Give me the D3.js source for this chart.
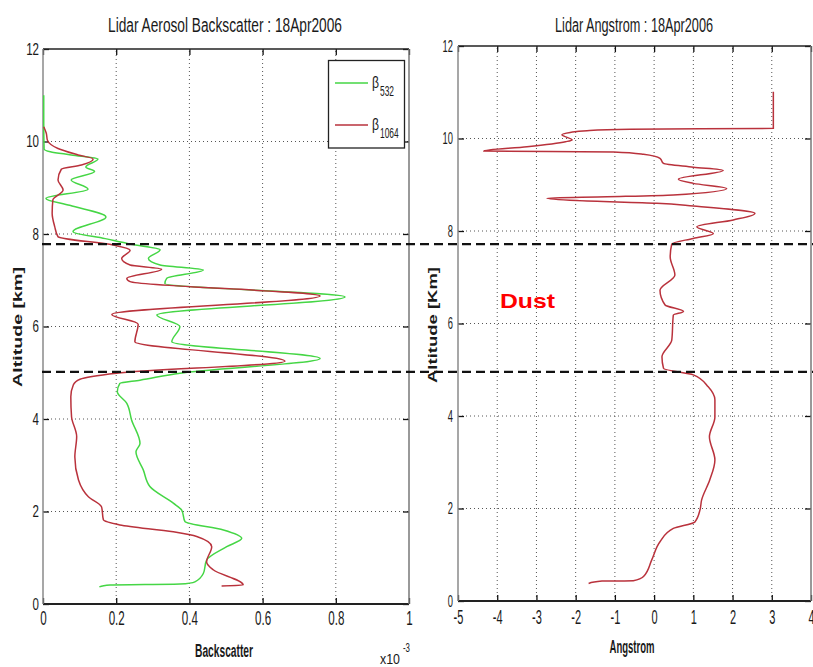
<!DOCTYPE html>
<html>
<head>
<meta charset="utf-8">
<script src="https://cdn.jsdelivr.net/npm/d3@7"></script>
<style>
  body { margin: 0; background: #fff; }
  svg { display: block; }
  text { font-family: "Liberation Sans", Arial, Helvetica, sans-serif; fill: #1a1a1a; }
</style>
</head>
<body>
<svg id="fig" width="813" height="667"></svg>
<script>
// Backscatter profile at 532 nm: altitude (km) and backscatter (x10^-3)
const alt532 = [11.00, 10.40, 9.84, 9.78, 9.71, 9.62, 9.45, 9.35, 9.17, 8.97, 8.77, 8.62, 8.37, 8.05,
  7.90, 7.78, 7.66, 7.47, 7.33, 7.22, 7.04, 6.93, 6.64, 6.25, 6.00, 5.67, 5.31, 4.99, 4.84, 4.77,
  4.59, 4.34, 3.98, 3.47, 3.29, 2.90, 2.54, 2.18, 2.03, 1.78, 1.60, 1.42, 1.24, 0.95, 0.66, 0.48,
  0.43, 0.41, 0.37];
const beta532 = [0.002, 0.002, 0.003, 0.020, 0.077, 0.150, 0.117, 0.141, 0.077, 0.123, 0.008, 0.073, 0.172, 0.082,
  0.170, 0.240, 0.320, 0.288, 0.320, 0.438, 0.338, 0.333, 0.825, 0.311, 0.374, 0.352, 0.757, 0.374, 0.265, 0.210,
  0.203, 0.229, 0.242, 0.265, 0.254, 0.274, 0.292, 0.356, 0.379, 0.388, 0.493, 0.543, 0.502, 0.447, 0.438, 0.415,
  0.374, 0.183, 0.154];

// Backscatter profile at 1064 nm
const alt1064 = [10.32, 10.18, 10.03, 9.85, 9.71, 9.62, 9.49, 9.40, 9.17, 8.95, 8.74, 8.45, 8.16, 7.94,
  7.76, 7.65, 7.47, 7.33, 7.24, 7.04, 6.97, 6.66, 6.26, 6.05, 5.67, 5.25, 4.99, 4.86, 4.74, 4.48,
  4.05, 3.62, 3.18, 2.68, 2.32, 2.10, 1.82, 1.71, 1.56, 1.46, 1.24, 0.91, 0.74, 0.41, 0.39];
const beta1064 = [0.002, 0.009, 0.012, 0.041, 0.096, 0.137, 0.105, 0.050, 0.041, 0.055, 0.027, 0.025, 0.032, 0.041,
  0.192, 0.238, 0.215, 0.238, 0.324, 0.229, 0.238, 0.757, 0.188, 0.260, 0.251, 0.661, 0.201, 0.101, 0.083, 0.076,
  0.078, 0.092, 0.087, 0.097, 0.124, 0.160, 0.165, 0.210, 0.356, 0.420, 0.461, 0.447, 0.465, 0.547, 0.488];

// Angstrom exponent profile
const altAng = [11.01, 10.22, 10.20, 10.17, 10.13, 10.08, 9.97, 9.93, 9.82, 9.73, 9.71, 9.66, 9.57, 9.46,
  9.38, 9.31, 9.12, 9.03, 8.92, 8.78, 8.74, 8.71, 8.66, 8.60, 8.54, 8.38, 8.24, 8.09, 7.94, 7.84,
  7.72, 7.44, 7.05, 6.72, 6.40, 6.26, 6.18, 5.64, 5.28, 5.03, 4.89, 4.63, 4.35, 3.98, 3.55, 3.05,
  2.62, 2.18, 1.97, 1.71, 1.57, 1.28, 0.89, 0.53, 0.44, 0.43, 0.38];
const angstrom = [3.04, 3.04, -0.61, -1.71, -2.14, -2.35, -2.09, -2.26, -3.24, -4.34, -1.03, -0.27, 0.15, 0.24,
  1.00, 1.76, 0.62, 1.00, 1.85, 0.49, -1.20, -2.73, -1.97, 0.07, 1.00, 2.57, 2.02, 1.09, 1.51, 1.00,
  0.45, 0.41, 0.53, 0.15, 0.28, 0.75, 0.49, 0.45, 0.20, 0.24, 1.00, 1.38, 1.55, 1.55, 1.41, 1.55,
  1.42, 1.21, 1.17, 1.04, 0.49, 0.15, -0.06, -0.27, -0.53, -1.33, -1.67];

// Axis ticks
const backscatterTicks = [0, 0.2, 0.4, 0.6, 0.8, 1];
const angstromTicks = [-5, -4, -3, -2, -1, 0, 1, 2, 3, 4];
const altitudeTicks = [0, 2, 4, 6, 8, 10, 12];

// Bounds of the dust layer (km)
const dustBounds = [5.02, 7.78];

const seriesLabels = ["532", "1064"];
const colors = { b532: "#45d645", b1064: "#b9323c", ang: "#b9323c" };

const svg = d3.select("#fig");

const xL = d3.scaleLinear().domain([0, 1]).range([43, 409]);
const yL = d3.scaleLinear().domain([0, 12]).range([604, 49]);
const xR = d3.scaleLinear().domain([-5, 4]).range([458, 811]);
const yR = d3.scaleLinear().domain([0, 12]).range([601, 46]);

// compress glyphs horizontally to a narrow face
function squeeze(sel, k) {
  sel.each(function () {
    const w = this.getComputedTextLength();
    d3.select(this).attr("textLength", w * k).attr("lengthAdjust", "spacingAndGlyphs");
  });
}

function panel(x, y, xTicks, opts) {
  const g = svg.append("g");
  const [x0, x1] = x.range();
  const [y0, y1] = y.range();

  // dotted grid
  g.selectAll(".vg").data(xTicks.slice(1, -1)).join("line")
    .attr("x1", d => x(d)).attr("x2", d => x(d)).attr("y1", y0).attr("y2", y1)
    .attr("stroke", "#555").attr("stroke-width", 1).attr("stroke-dasharray", "1,3");
  g.selectAll(".hg").data(altitudeTicks.slice(1, -1)).join("line")
    .attr("x1", x0).attr("x2", x1).attr("y1", d => y(d)).attr("y2", d => y(d))
    .attr("stroke", "#555").attr("stroke-width", 1).attr("stroke-dasharray", "1,3");

  const fmt = d => String(d);
  const bottom = g.append("g").attr("transform", `translate(0,${y0})`)
    .call(d3.axisBottom(x).tickValues(xTicks).tickFormat(fmt).tickSizeInner(-6).tickSizeOuter(0).tickPadding(opts.xpad));
  const top = g.append("g").attr("transform", `translate(0,${y1})`)
    .call(d3.axisTop(x).tickValues(xTicks).tickFormat("").tickSizeInner(-6).tickSizeOuter(0));
  const left = g.append("g").attr("transform", `translate(${x0},0)`)
    .call(d3.axisLeft(y).tickValues(altitudeTicks).tickFormat(fmt).tickSizeInner(-6).tickSizeOuter(0).tickPadding(opts.ypad));
  const right = g.append("g").attr("transform", `translate(${x1},0)`)
    .call(d3.axisRight(y).tickValues(altitudeTicks).tickFormat("").tickSizeInner(-6).tickSizeOuter(0));
  [bottom, top, left, right].forEach(a => {
    a.select(".domain").remove();
    a.selectAll(".tick line").attr("stroke", "#111").attr("stroke-width", 1.3);
  });
  bottom.selectAll("text").attr("font-size", 20).attr("fill", "#1a1a1a")
    .attr("font-family", "Liberation Sans, Arial, sans-serif");
  squeeze(bottom.selectAll("text"), opts.xk);
  left.selectAll("text").attr("font-size", opts.yfs).attr("fill", "#1a1a1a")
    .attr("font-family", "Liberation Sans, Arial, sans-serif");
  squeeze(left.selectAll("text"), opts.yk);

  // frame
  g.append("line").attr("x1", x0).attr("x2", x1).attr("y1", y1).attr("y2", y1).attr("stroke", "#222").attr("stroke-width", 1.5);
  g.append("line").attr("x1", x0).attr("x2", x1).attr("y1", y0).attr("y2", y0).attr("stroke", "#222").attr("stroke-width", 1.8);
  g.append("line").attr("x1", x0).attr("x2", x0).attr("y1", y0).attr("y2", y1).attr("stroke", "#8a8a8a").attr("stroke-width", 1.5);
  g.append("line").attr("x1", x1).attr("x2", x1).attr("y1", y0).attr("y2", y1).attr("stroke", "#777").attr("stroke-width", 1.5);
  return g;
}

const gL = panel(xL, yL, backscatterTicks, { xk: 0.58, xpad: 7, yk: 0.72, yfs: 16, ypad: 4 });
const gR = panel(xR, yR, angstromTicks, { xk: 0.55, xpad: 9, yk: 0.55, yfs: 17, ypad: 5 });

// profiles
const lineL = d3.line().x(d => xL(d[1])).y(d => yL(d[0])).curve(d3.curveMonotoneY);
const lineR = d3.line().x(d => xR(d[1])).y(d => yR(d[0])).curve(d3.curveMonotoneY);

gL.append("path").datum(d3.zip(alt532, beta532)).attr("d", lineL)
  .attr("fill", "none").attr("stroke", colors.b532).attr("stroke-width", 1.5);
gL.append("path").datum(d3.zip(alt1064, beta1064)).attr("d", lineL)
  .attr("fill", "none").attr("stroke", colors.b1064).attr("stroke-width", 1.5);
gR.append("path").datum(d3.zip(altAng, angstrom)).attr("d", lineR)
  .attr("fill", "none").attr("stroke", colors.ang).attr("stroke-width", 1.5);

// dust layer boundaries across both panels
svg.selectAll(".dust").data(dustBounds).join("line")
  .attr("x1", 42).attr("x2", 813)
  .attr("y1", d => yL(d)).attr("y2", d => yL(d))
  .attr("stroke", "#111").attr("stroke-width", 2.2).attr("stroke-dasharray", "9,5");

// legend
const lg = svg.append("g");
lg.append("rect").attr("x", 328.5).attr("y", 60.5).attr("width", 76).attr("height", 87.5)
  .attr("fill", "#fff").attr("stroke", "#222").attr("stroke-width", 1.3);
const legendKeys = [colors.b532, colors.b1064];
legendKeys.forEach((c, i) => {
  const y = 83 + i * 42;
  lg.append("line").attr("x1", 335).attr("x2", 368).attr("y1", y).attr("y2", y)
    .attr("stroke", c).attr("stroke-width", 1.6);
  lg.append("text").attr("x", 372).attr("y", y + 5).attr("font-size", 17)
    .attr("font-family", "DejaVu Sans Condensed, sans-serif")
    .attr("textLength", 7).attr("lengthAdjust", "spacingAndGlyphs").text("β");
  const sub = lg.append("text").attr("x", 380).attr("y", y + 13).attr("font-size", 14)
    .text(seriesLabels[i]);
  squeeze(sub, 0.6);
});

// titles
svg.append("text").attr("x", 225).attr("y", 32).attr("text-anchor", "middle")
  .attr("font-size", 20).attr("textLength", 234).attr("lengthAdjust", "spacingAndGlyphs")
  .text("Lidar Aerosol Backscatter : 18Apr2006");
svg.append("text").attr("x", 634).attr("y", 32).attr("text-anchor", "middle")
  .attr("font-size", 20).attr("textLength", 158).attr("lengthAdjust", "spacingAndGlyphs")
  .text("Lidar Angstrom : 18Apr2006");

// axis titles
svg.append("text").attr("x", 224).attr("y", 657).attr("text-anchor", "middle")
  .attr("font-size", 18).attr("font-weight", "bold").attr("textLength", 58).attr("lengthAdjust", "spacingAndGlyphs")
  .text("Backscatter");
svg.append("text").attr("x", 632).attr("y", 653).attr("text-anchor", "middle")
  .attr("font-size", 18).attr("font-weight", "bold").attr("textLength", 45).attr("lengthAdjust", "spacingAndGlyphs")
  .text("Angstrom");

// axis multiplier
svg.append("text").attr("x", 380).attr("y", 664).attr("font-size", 15)
  .attr("textLength", 20).attr("lengthAdjust", "spacingAndGlyphs").text("x10");
svg.append("text").attr("x", 403).attr("y", 652).attr("font-size", 12)
  .attr("textLength", 7).attr("lengthAdjust", "spacingAndGlyphs").text("-3");

svg.append("text").attr("transform", "translate(22,327) rotate(-90)").attr("text-anchor", "middle")
  .attr("font-size", 13).attr("font-weight", "bold").attr("textLength", 120).attr("lengthAdjust", "spacingAndGlyphs")
  .text("Altitude [km]");
svg.append("text").attr("transform", "translate(437,325) rotate(-90)").attr("text-anchor", "middle")
  .attr("font-size", 13).attr("font-weight", "bold").attr("textLength", 116).attr("lengthAdjust", "spacingAndGlyphs")
  .text("Altitude [Km]");

svg.append("text").attr("x", 500).attr("y", 308)
  .attr("font-size", 21).attr("font-weight", "bold")
  .style("fill", "#ff0000").attr("textLength", 55).attr("lengthAdjust", "spacingAndGlyphs")
  .text("Dust");
</script>
</body>
</html>
